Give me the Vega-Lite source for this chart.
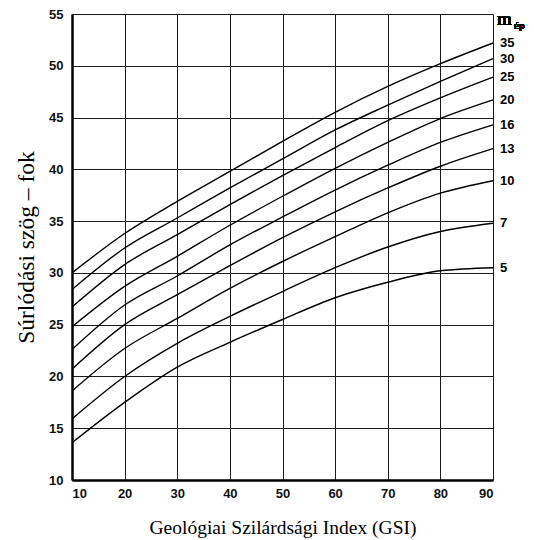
{
  "$schema": "https://vega.github.io/schema/vega-lite/v6.json",
  "width": 421,
  "height": 466,
  "autosize": {"type": "none"},
  "padding": {"left": 72, "top": 14, "right": 41, "bottom": 60},
  "background": "white",
  "config": {"view": {"stroke": null}},
  "data": {"values": [
    {"gsi": 10, "m": 35, "phi": 30.0}, {"gsi": 20, "m": 35, "phi": 33.8}, {"gsi": 30, "m": 35, "phi": 36.9}, {"gsi": 40, "m": 35, "phi": 39.8}, {"gsi": 50, "m": 35, "phi": 42.7}, {"gsi": 60, "m": 35, "phi": 45.5}, {"gsi": 70, "m": 35, "phi": 48.0}, {"gsi": 80, "m": 35, "phi": 50.2}, {"gsi": 90, "m": 35, "phi": 52.2},
    {"gsi": 10, "m": 30, "phi": 28.4}, {"gsi": 20, "m": 30, "phi": 32.4}, {"gsi": 30, "m": 30, "phi": 35.3}, {"gsi": 40, "m": 30, "phi": 38.2}, {"gsi": 50, "m": 30, "phi": 41.0}, {"gsi": 60, "m": 30, "phi": 43.8}, {"gsi": 70, "m": 30, "phi": 46.2}, {"gsi": 80, "m": 30, "phi": 48.5}, {"gsi": 90, "m": 30, "phi": 50.7},
    {"gsi": 10, "m": 25, "phi": 26.7}, {"gsi": 20, "m": 25, "phi": 30.8}, {"gsi": 30, "m": 25, "phi": 33.7}, {"gsi": 40, "m": 25, "phi": 36.6}, {"gsi": 50, "m": 25, "phi": 39.4}, {"gsi": 60, "m": 25, "phi": 42.1}, {"gsi": 70, "m": 25, "phi": 44.7}, {"gsi": 80, "m": 25, "phi": 46.9}, {"gsi": 90, "m": 25, "phi": 48.9},
    {"gsi": 10, "m": 20, "phi": 24.8}, {"gsi": 20, "m": 20, "phi": 28.7}, {"gsi": 30, "m": 20, "phi": 31.6}, {"gsi": 40, "m": 20, "phi": 34.6}, {"gsi": 50, "m": 20, "phi": 37.4}, {"gsi": 60, "m": 20, "phi": 40.1}, {"gsi": 70, "m": 20, "phi": 42.6}, {"gsi": 80, "m": 20, "phi": 44.9}, {"gsi": 90, "m": 20, "phi": 46.7},
    {"gsi": 10, "m": 16, "phi": 22.6}, {"gsi": 20, "m": 16, "phi": 26.9}, {"gsi": 30, "m": 16, "phi": 29.7}, {"gsi": 40, "m": 16, "phi": 32.7}, {"gsi": 50, "m": 16, "phi": 35.4}, {"gsi": 60, "m": 16, "phi": 38.0}, {"gsi": 70, "m": 16, "phi": 40.4}, {"gsi": 80, "m": 16, "phi": 42.6}, {"gsi": 90, "m": 16, "phi": 44.3},
    {"gsi": 10, "m": 13, "phi": 20.7}, {"gsi": 20, "m": 13, "phi": 25.0}, {"gsi": 30, "m": 13, "phi": 27.9}, {"gsi": 40, "m": 13, "phi": 30.7}, {"gsi": 50, "m": 13, "phi": 33.4}, {"gsi": 60, "m": 13, "phi": 35.9}, {"gsi": 70, "m": 13, "phi": 38.2}, {"gsi": 80, "m": 13, "phi": 40.3}, {"gsi": 90, "m": 13, "phi": 42.0},
    {"gsi": 10, "m": 10, "phi": 18.6}, {"gsi": 20, "m": 10, "phi": 22.7}, {"gsi": 30, "m": 10, "phi": 25.6}, {"gsi": 40, "m": 10, "phi": 28.5}, {"gsi": 50, "m": 10, "phi": 31.1}, {"gsi": 60, "m": 10, "phi": 33.5}, {"gsi": 70, "m": 10, "phi": 35.8}, {"gsi": 80, "m": 10, "phi": 37.7}, {"gsi": 90, "m": 10, "phi": 38.9},
    {"gsi": 10, "m": 7, "phi": 15.9}, {"gsi": 20, "m": 7, "phi": 20.0}, {"gsi": 30, "m": 7, "phi": 23.2}, {"gsi": 40, "m": 7, "phi": 25.8}, {"gsi": 50, "m": 7, "phi": 28.2}, {"gsi": 60, "m": 7, "phi": 30.5}, {"gsi": 70, "m": 7, "phi": 32.5}, {"gsi": 80, "m": 7, "phi": 34.0}, {"gsi": 90, "m": 7, "phi": 34.8},
    {"gsi": 10, "m": 5, "phi": 13.6}, {"gsi": 20, "m": 5, "phi": 17.5}, {"gsi": 30, "m": 5, "phi": 20.9}, {"gsi": 40, "m": 5, "phi": 23.3}, {"gsi": 50, "m": 5, "phi": 25.5}, {"gsi": 60, "m": 5, "phi": 27.6}, {"gsi": 70, "m": 5, "phi": 29.1}, {"gsi": 80, "m": 5, "phi": 30.2}, {"gsi": 90, "m": 5, "phi": 30.5}
  ]},
  "encoding": {
    "x": {
      "field": "gsi", "type": "quantitative",
      "scale": {"domain": [10, 90], "nice": false, "zero": false},
      "axis": {
        "values": [10, 20, 30, 40, 50, 60, 70, 80, 90],
        "title": "Geológiai Szilárdsági Index (GSI)",
        "titleFont": "Liberation Serif", "titleFontSize": 19.5, "titleFontWeight": "normal", "titleColor": "#000", "titlePadding": 18,
        "labelFont": "Liberation Sans", "labelFontSize": 13, "labelFontWeight": "bold", "labelColor": "#111", "labelPadding": 7,
        "ticks": false, "domainColor": "#000", "domainWidth": 2.5,
        "grid": true, "gridColor": "#1a1a1a", "gridWidth": 1, "gridOpacity": 1
      }
    },
    "y": {
      "field": "phi", "type": "quantitative",
      "scale": {"domain": [10, 55], "nice": false, "zero": false},
      "axis": {
        "values": [10, 15, 20, 25, 30, 35, 40, 45, 50, 55],
        "title": "Súrlódási szög – fok",
        "titleFont": "Liberation Serif", "titleFontSize": 23.5, "titleFontWeight": "normal", "titleColor": "#000", "titlePadding": 10,
        "labelFont": "Liberation Sans", "labelFontSize": 13, "labelFontWeight": "bold", "labelColor": "#111", "labelPadding": 9,
        "ticks": false, "domainColor": "#000", "domainWidth": 2.5,
        "grid": true, "gridColor": "#1a1a1a", "gridWidth": 1, "gridOpacity": 1
      }
    }
  },
  "layer": [
    {
      "mark": {"type": "line", "color": "#000", "strokeWidth": 1.4, "interpolate": "monotone", "clip": false},
      "encoding": {"detail": {"field": "m", "type": "nominal"}}
    },
    {
      "transform": [{"filter": "datum.gsi == 90"}],
      "mark": {"type": "text", "align": "left", "baseline": "middle", "dx": 7, "font": "Liberation Sans", "fontSize": 13, "fontWeight": "bold", "color": "#000"},
      "encoding": {"text": {"field": "m", "type": "quantitative"}}
    },
    {
      "mark": {"type": "text", "align": "left", "baseline": "alphabetic", "dx": 4, "dy": 11, "font": "Liberation Serif", "fontSize": 19, "fontWeight": "normal", "color": "#000"},
      "encoding": {"x": {"datum": 90}, "y": {"datum": 55}, "text": {"value": "m"}}
    },
    {
      "mark": {"type": "text", "align": "left", "baseline": "alphabetic", "dx": 21, "dy": 15, "font": "Liberation Serif", "fontSize": 11, "fontWeight": "normal", "color": "#000"},
      "encoding": {"x": {"datum": 90}, "y": {"datum": 55}, "text": {"value": "ép"}}
    }
  ]
}
